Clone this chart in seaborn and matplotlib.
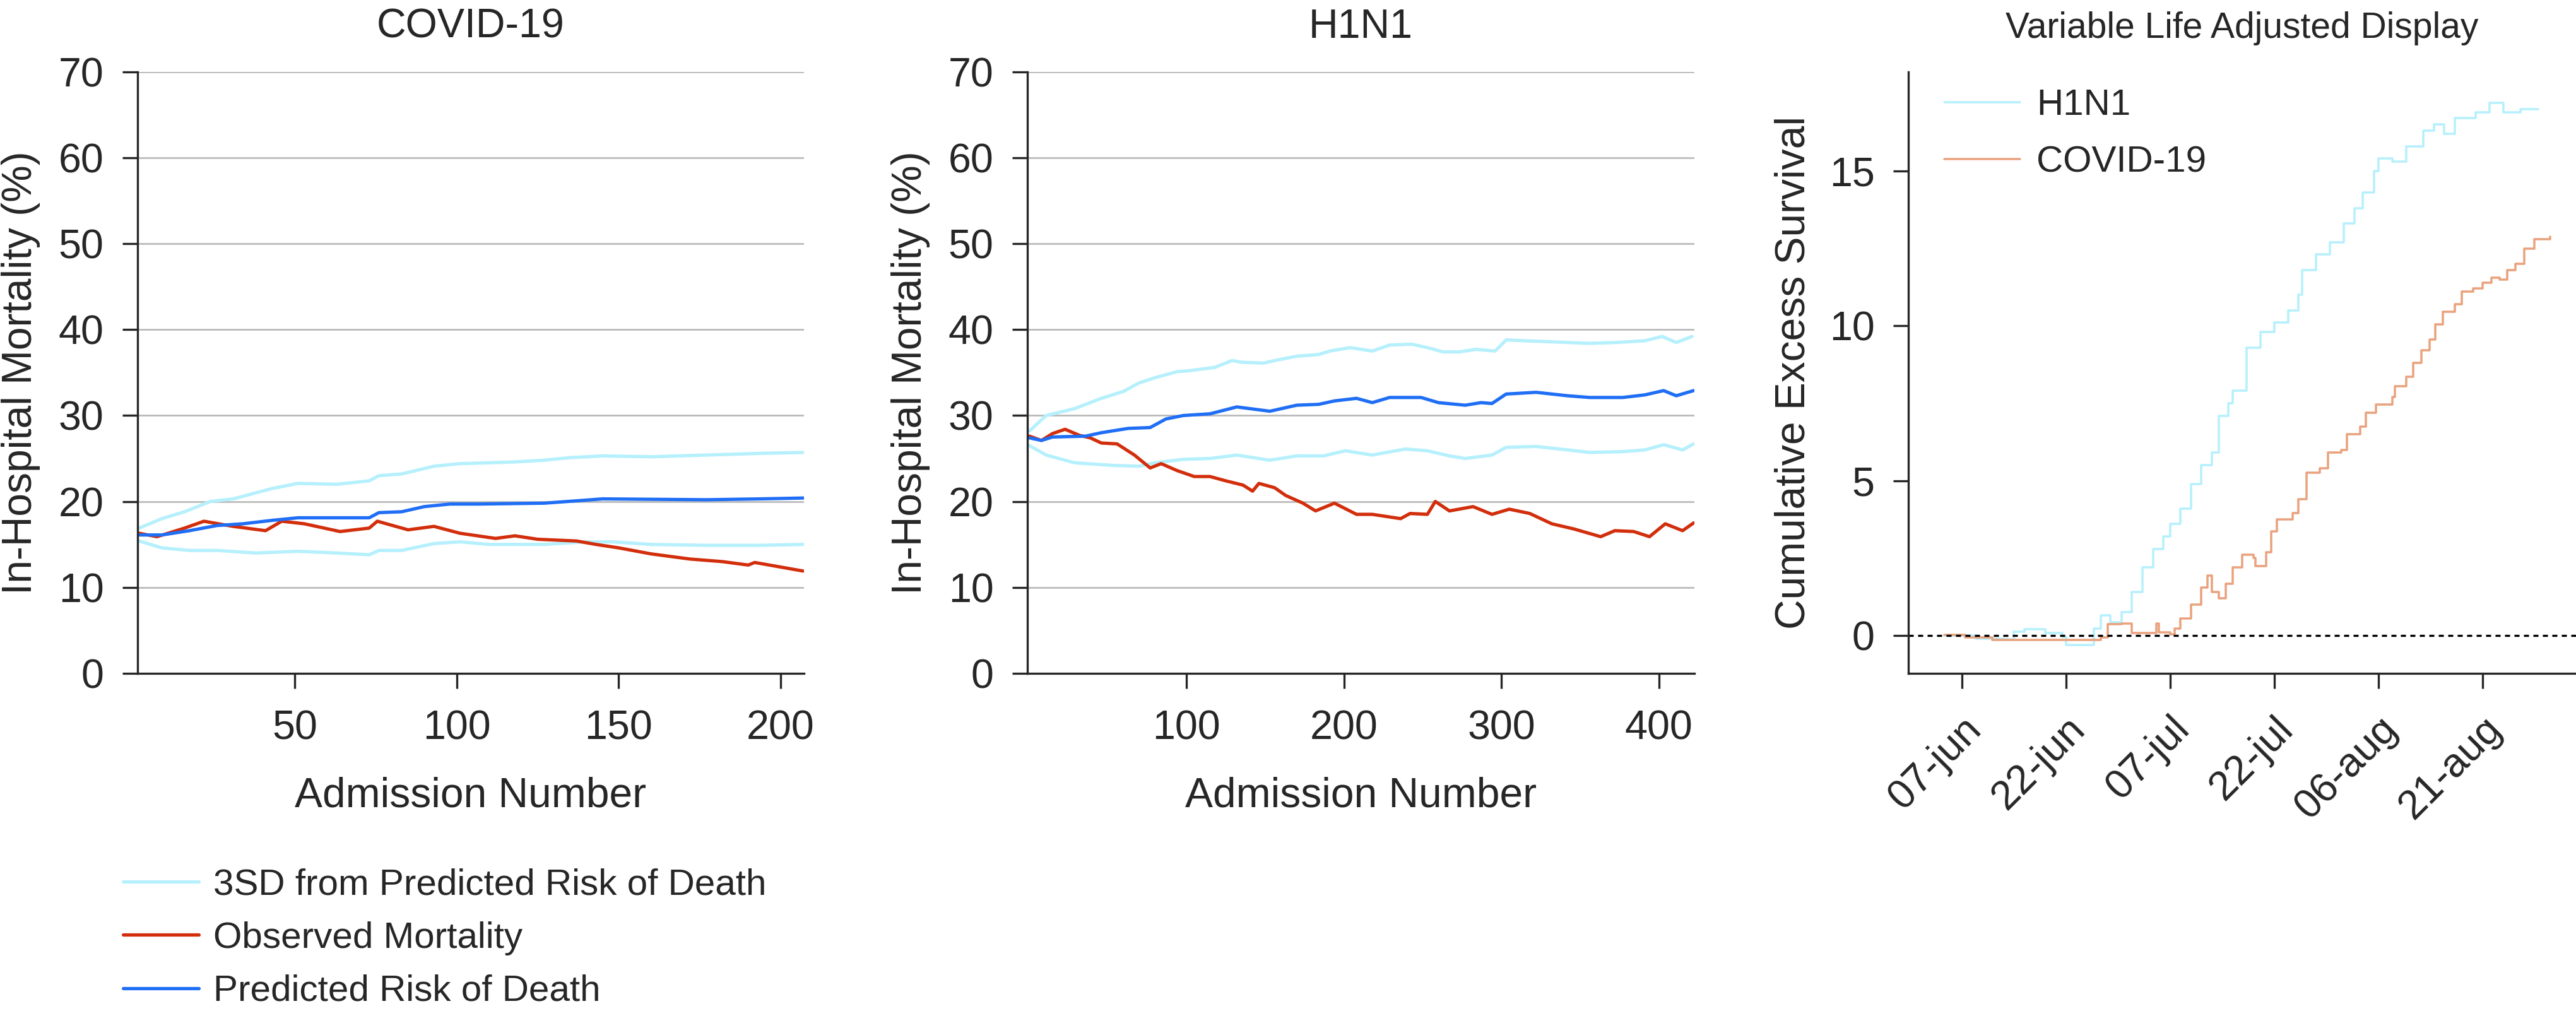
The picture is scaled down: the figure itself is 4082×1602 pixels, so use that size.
import numpy as np
import pandas as pd
import matplotlib
matplotlib.use("Agg")
import matplotlib.pyplot as plt
import seaborn as sns

# -----------------------------------------------------------------------------
# Data
# -----------------------------------------------------------------------------
# COVID-19 (admission number vs in-hospital mortality, %)
covid_obs_x = [2, 7.5, 16, 22, 31, 41, 46, 53, 64, 73, 75.5, 85, 93, 101, 112,
               118, 125, 137, 143, 150, 160, 172, 182, 190, 192, 207]
covid_obs_y = [16.3, 15.9, 16.9, 17.7, 17.1, 16.6, 17.7, 17.4, 16.5, 16.9, 17.7,
               16.7, 17.1, 16.3, 15.7, 16.0, 15.6, 15.4, 15.0, 14.6, 13.9, 13.3,
               13.0, 12.6, 12.9, 11.9]
covid_up_x = [2, 9, 16, 24, 31, 43, 51, 63, 73, 76, 83, 93, 101, 110, 118, 127,
              135, 145, 160, 177, 194, 207]
covid_up_y = [16.9, 18.0, 18.8, 20.0, 20.3, 21.5, 22.1, 22.0, 22.4, 23.0, 23.2,
              24.1, 24.4, 24.5, 24.6, 24.8, 25.1, 25.3, 25.2, 25.4, 25.6, 25.7]
covid_pred_x = [2, 9, 17.5, 26, 34, 43, 51, 60, 73, 76, 83, 90, 98, 107, 127,
                138, 145, 177, 194, 207]
covid_pred_y = [16.1, 16.1, 16.6, 17.2, 17.4, 17.8, 18.1, 18.1, 18.1, 18.7, 18.8,
                19.4, 19.7, 19.7, 19.8, 20.1, 20.3, 20.2, 20.3, 20.4]
covid_lo_x = [2, 9, 17.5, 26, 38, 51, 63, 73, 76, 83, 93, 101, 110, 127, 140,
              148, 160, 177, 194, 207]
covid_lo_y = [15.4, 14.6, 14.3, 14.3, 14.0, 14.2, 14.0, 13.8, 14.3, 14.3, 15.1,
              15.3, 15.0, 15.0, 15.3, 15.3, 15.0, 14.9, 14.9, 15.0]

# H1N1
h1_obs_x = [0.3, 8, 15, 23, 32, 39, 46, 56, 67, 77, 84, 94, 105, 115, 125, 136,
            142, 146, 156, 163, 174, 182, 194, 208, 218, 236, 242, 253, 258, 267,
            282, 294, 305, 318, 332, 346, 363, 372, 384, 394, 404, 415, 422]
h1_obs_y = [27.6, 27.1, 27.9, 28.4, 27.7, 27.4, 26.8, 26.7, 25.4, 23.9, 24.4,
            23.6, 22.9, 22.9, 22.4, 21.9, 21.2, 22.1, 21.6, 20.7, 19.8, 18.9,
            19.8, 18.5, 18.5, 18.0, 18.6, 18.5, 20.0, 18.9, 19.4, 18.5, 19.1,
            18.6, 17.4, 16.8, 15.9, 16.6, 16.5, 15.9, 17.4, 16.6, 17.5]
h1_up_x = [0.3, 11, 29, 46, 60, 70, 80, 94, 101, 118, 129, 135, 149, 156, 170,
           184, 191, 204, 218, 229, 243, 253, 263, 273, 284, 296, 303, 315, 329,
           342, 356, 373, 391, 402, 411, 421]
h1_up_y = [28.2, 30.0, 30.8, 32.0, 32.8, 33.8, 34.4, 35.1, 35.2, 35.6, 36.4,
           36.2, 36.1, 36.4, 36.9, 37.1, 37.5, 37.9, 37.5, 38.2, 38.3, 37.9,
           37.4, 37.4, 37.7, 37.5, 38.8, 38.7, 38.6, 38.5, 38.4, 38.5, 38.7,
           39.2, 38.5, 39.2]
h1_pred_x = [0.3, 8, 15, 36, 46, 63, 77, 87, 98, 115, 132, 153, 170, 184, 194,
             208, 218, 229, 249, 260, 277, 287, 294, 303, 322, 342, 356, 377,
             391, 403, 411, 422]
h1_pred_y = [27.4, 27.1, 27.5, 27.6, 28.0, 28.5, 28.6, 29.6, 30.0, 30.2, 31.0,
             30.5, 31.2, 31.3, 31.7, 32.0, 31.5, 32.1, 32.1, 31.5, 31.2, 31.5,
             31.4, 32.5, 32.7, 32.3, 32.1, 32.1, 32.4, 32.9, 32.3, 32.9]
h1_lo_x = [0.3, 11, 29, 53, 70, 80, 98, 115, 132, 153, 170, 187, 201, 218, 239,
           253, 267, 277, 294, 303, 322, 342, 356, 377, 391, 403, 415, 422]
h1_lo_y = [26.5, 25.4, 24.5, 24.2, 24.1, 24.5, 24.9, 25.0, 25.4, 24.8, 25.3,
           25.3, 25.9, 25.4, 26.1, 25.9, 25.3, 25.0, 25.4, 26.3, 26.4, 26.0,
           25.7, 25.8, 26.0, 26.6, 26.0, 26.7]

# VLAD: days after 07-jun vs cumulative excess survival
vlad_h1_day = [-2.5, 2, 6, 7.5, 9, 12, 14.5, 15, 18, 19, 20, 21.4, 23, 24.5, 26,
               27.6, 29, 30, 31.5, 33, 34.5, 36, 37, 38.4, 39, 41, 43, 45, 47,
               48.5, 49, 51, 53, 55, 56.6, 57.8, 59.4, 60, 62, 64, 66.5, 68,
               69.5, 71, 74, 76, 78, 80.5, 83]
vlad_h1_val = [0, -0.1, -0.13, 0.13, 0.2, 0.08, -0.03, -0.3, -0.3, 0.23, 0.65,
               0.43, 0.75, 1.4, 2.2, 2.8, 3.2, 3.6, 4.1, 4.9, 5.5, 5.9, 7.1, 7.5,
               7.9, 9.3, 9.8, 10.1, 10.5, 11.0, 11.8, 12.3, 12.7, 13.3, 13.8,
               14.3, 15.0, 15.4, 15.3, 15.8, 16.3, 16.5, 16.2, 16.7, 16.9, 17.2,
               16.9, 17.0, 17.0]
vlad_cov_day = [-2.5, 0.5, 4.4, 10, 17.5, 20, 21, 23, 24.5, 27, 28, 28.4, 30,
                30.7, 31.5, 33, 34.5, 35.4, 36, 37, 38, 39, 40.4, 42, 42.3, 43.9,
                44.6, 45.4, 47.7, 48.5, 49.7, 51.6, 52.8, 54.7, 55.5, 57.4, 58.2,
                59.7, 62, 62.4, 64, 65, 66.2, 67.4, 68.2, 69.3, 71, 72, 73.7, 75,
                76.3, 77.5, 78.6, 79.8, 81, 82.5, 84.8]
vlad_cov_val = [0.02, -0.07, -0.15, -0.15, -0.15, -0.07, 0.36, 0.39, 0.08, 0.08,
                0.39, 0.1, 0.04, 0.23, 0.56, 1.0, 1.54, 1.93, 1.4, 1.2, 1.67, 2.2,
                2.6, 2.5, 2.25, 2.7, 3.36, 3.75, 3.95, 4.4, 5.25, 5.4, 5.9, 6.0,
                6.5, 6.75, 7.2, 7.46, 7.7, 8.04, 8.36, 8.8, 9.2, 9.55, 10.05,
                10.45, 10.7, 11.1, 11.2, 11.4, 11.55, 11.5, 11.8, 12.0, 12.5,
                12.8, 12.87]
vlad_start = "2020-06-07"
tick_days = [0, 15, 30, 45, 60, 75]
tick_labels = ["07-jun", "22-jun", "07-jul", "22-jul", "06-aug", "21-aug"]

# -----------------------------------------------------------------------------
# Style
# -----------------------------------------------------------------------------
sns.set_style("ticks")
plt.rcParams["font.family"] = ["Liberation Sans", "DejaVu Sans"]

C_SD = "#b5f0fc"
C_OBS = "#d22e0c"
C_PRED = "#1f6ef5"
C_H1 = "#b5f0fc"
C_COV = "#e9a27e"

fig = plt.figure(figsize=(4082 / 300, 1602 / 300), dpi=300)
bottom, height = 0.334, 0.595
ax1 = fig.add_axes([0.0534, bottom, 0.2587, height])
ax2 = fig.add_axes([0.3988, bottom, 0.2589, height])
ax3 = fig.add_axes([0.7408, bottom, 0.2592, height])


def mortality_panel(ax, up, lo, pred, obs, xlim, xticks, title):
    lw = 1.25
    sns.lineplot(x=up[0], y=up[1], ax=ax, color=C_SD, lw=lw, sort=False,
                 label="3SD from Predicted Risk of Death")
    sns.lineplot(x=lo[0], y=lo[1], ax=ax, color=C_SD, lw=lw, sort=False)
    sns.lineplot(x=obs[0], y=obs[1], ax=ax, color=C_OBS, lw=lw, sort=False,
                 label="Observed Mortality")
    sns.lineplot(x=pred[0], y=pred[1], ax=ax, color=C_PRED, lw=lw, sort=False,
                 label="Predicted Risk of Death")
    if ax.get_legend() is not None:
        ax.get_legend().remove()
    ax.set_xlim(*xlim)
    ax.set_ylim(0, 70)
    ax.set_yticks(range(0, 71, 10))
    ax.set_xticks(xticks)
    ax.yaxis.grid(True, color="#b4b4b4", lw=0.6)
    ax.set_axisbelow(True)
    sns.despine(ax=ax)
    for s in ax.spines.values():
        s.set_linewidth(0.8)
    ax.tick_params(axis="both", length=5.8, width=0.8, labelsize=15.5)
    ax.tick_params(axis="x", pad=8)
    ax.tick_params(axis="y", pad=7)
    ax.set_xlabel("Admission Number", fontsize=15.8, labelpad=11)
    ax.set_ylabel("In-Hospital Mortality (%)", fontsize=15.8, labelpad=7)
    ax.set_title(title, fontsize=15.5, pad=13)


mortality_panel(ax1, (covid_up_x, covid_up_y), (covid_lo_x, covid_lo_y),
                (covid_pred_x, covid_pred_y), (covid_obs_x, covid_obs_y),
                (1.5, 207.2), [50, 100, 150, 200], "COVID-19")
mortality_panel(ax2, (h1_up_x, h1_up_y), (h1_lo_x, h1_lo_y),
                (h1_pred_x, h1_pred_y), (h1_obs_x, h1_obs_y),
                (-1, 422.4), [100, 200, 300, 400], "H1N1")

# shared legend under the first panel
handles, labels = ax1.get_legend_handles_labels()
fig.legend(handles, labels, loc="center left",
           bbox_to_anchor=(0.0478, 0.072), frameon=False, fontsize=14,
           borderpad=0, borderaxespad=0, handlelength=2.05,
           handletextpad=0.4, labelspacing=0.52)

# -----------------------------------------------------------------------------
# VLAD panel
# -----------------------------------------------------------------------------
t0 = pd.Timestamp(vlad_start)
h1_dates = t0 + pd.to_timedelta(vlad_h1_day, unit="D")
cov_dates = t0 + pd.to_timedelta(vlad_cov_day, unit="D")
tick_dates = t0 + pd.to_timedelta(tick_days, unit="D")

sns.lineplot(x=h1_dates, y=vlad_h1_val, ax=ax3, color=C_H1, lw=0.85,
             drawstyle="steps-post", label="H1N1")
sns.lineplot(x=cov_dates, y=vlad_cov_val, ax=ax3, color=C_COV, lw=0.85,
             drawstyle="steps-post", label="COVID-19")
ax3.axhline(0, color="black", lw=0.8, ls=(0, (2.4, 2.1)))
ax3.set_xlim(t0 + pd.Timedelta(days=-7.7), t0 + pd.Timedelta(days=88.5))
ax3.set_ylim(-1.22, 18.2)
ax3.set_yticks([0, 5, 10, 15])
ax3.set_xticks(tick_dates)
ax3.set_xticklabels(tick_labels, rotation=45, ha="right", va="top",
                    rotation_mode="anchor")
sns.despine(ax=ax3)
for s in ax3.spines.values():
    s.set_linewidth(0.8)
ax3.tick_params(axis="both", length=5.8, width=0.8, labelsize=15.5)
ax3.tick_params(axis="x", pad=8)
ax3.tick_params(axis="y", pad=7)
ax3.set_xlabel("")
ax3.set_ylabel("Cumulative Excess Survival", fontsize=15.8, labelpad=6)
ax3.set_title("Variable Life Adjusted Display", fontsize=13.7, pad=13)
ax3.legend(loc="upper left", bbox_to_anchor=(0.054, 0.972), frameon=False,
           fontsize=14, borderpad=0, borderaxespad=0, handlelength=2.05,
           handletextpad=0.45, labelspacing=0.62)

fig.savefig("out.png", dpi=300)
